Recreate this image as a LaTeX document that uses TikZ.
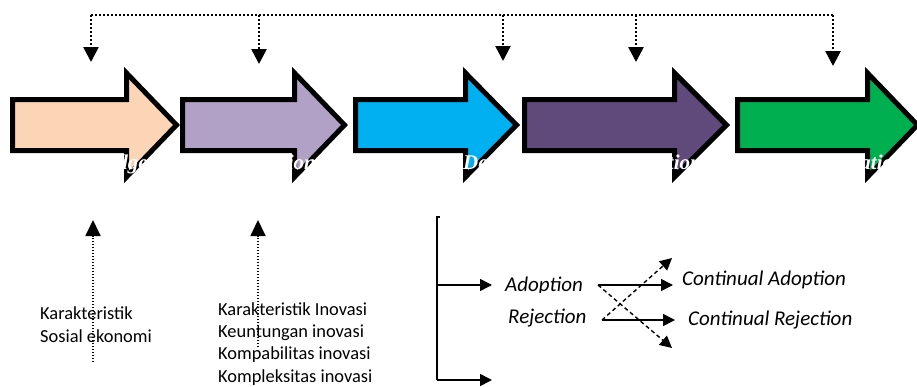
\documentclass[tikz,border=0pt]{standalone}
\usepackage{fontspec}
\setmainfont{Carlito}
\newfontfamily\stagefont{Liberation Serif}
\usetikzlibrary{arrows.meta}
\definecolor{peach}{HTML}{FBD5B5}
\definecolor{lilac}{HTML}{B2A1C7}
\definecolor{sky}{HTML}{00B0F0}
\definecolor{plum}{HTML}{604A7B}
\definecolor{leaf}{HTML}{00B050}
\tikzset{
  stage/.style={draw=black, line width=5pt, miter limit=10},
  stagelabel/.style={text=white, inner sep=0pt, font=\stagefont\bfseries\itshape\fontsize{21}{24}\selectfont},
  txt/.style={inner sep=0pt, align=left, font=\fontsize{18.4}{22.3}\selectfont},
  itxt/.style={inner sep=0pt, font=\itshape\fontsize{21}{24}\selectfont},
  topdot/.style={line width=2.6pt, dash pattern=on 2pt off 2pt},
  topdotarrow/.style={topdot, -{Triangle[length=15pt,width=15pt]}},
  updotarrow/.style={line width=1.8pt, dash pattern=on 1.5pt off 1.5pt, -{Triangle[length=16pt,width=15pt]}},
  solidarrow/.style={line width=1.5pt, -{Triangle[length=12pt,width=12pt]}},
  dasharrow/.style={line width=1.4pt, dash pattern=on 4pt off 3pt, -{Triangle[length=12pt,width=12pt]}}
}
\begin{document}
\begin{tikzpicture}[x=1pt,y=-1pt]
\useasboundingbox (0,0) rectangle (917,386);

% stages
\draw[stage, fill=peach] (12.5,99.5) -- (126.5,99.5) -- (126.5,73) -- (176.5,125) -- (126.5,177) -- (126.5,150.5) -- (12.5,150.5) -- cycle;
\draw[stage, fill=lilac] (182.5,99.5) -- (294.5,99.5) -- (294.5,73) -- (344.5,125) -- (294.5,177) -- (294.5,150.5) -- (182.5,150.5) -- cycle;
\draw[stage, fill=sky] (355.5,99.5) -- (465.5,99.5) -- (465.5,73) -- (516.5,125) -- (465.5,177) -- (465.5,150.5) -- (355.5,150.5) -- cycle;
\draw[stage, fill=plum] (524.5,99.5) -- (674.5,99.5) -- (674.5,73) -- (726.5,125) -- (674.5,177) -- (674.5,150.5) -- (524.5,150.5) -- cycle;
\draw[stage, fill=leaf] (737.5,99.5) -- (867.5,99.5) -- (867.5,73) -- (917.5,125) -- (867.5,177) -- (867.5,150.5) -- (737.5,150.5) -- cycle;

\node (know) at (148,169) [stagelabel, anchor=base east] {Knowledge};
\node (pers) at (316,169) [stagelabel, anchor=base east] {Persuasion};
\node (deci) at (463,169) [stagelabel, anchor=base west] {Decision};
\node (impl) at (702,169) [stagelabel, anchor=base east] {Implementation};
\node (conf) at (905,169) [stagelabel, anchor=base east] {Confirmation};

% top line
\coordinate (t1) at (91,15);
\coordinate (t2) at (259,15);
\coordinate (t3) at (503,15);
\coordinate (t4) at (636,15);
\coordinate (t5) at (833,15);
\coordinate (k1) at (91,62);
\coordinate (k2) at (259,64);
\coordinate (k3) at (503,61);
\coordinate (k4) at (636,62);
\coordinate (k5) at (833,66);
\draw[topdot] (t1) -- (t5);
\draw[topdotarrow] (t1) -- (k1);
\draw[topdotarrow] (t2) -- (k2);
\draw[topdotarrow] (t3) -- (k3);
\draw[topdotarrow] (t4) -- (k4);
\draw[topdotarrow] (t5) -- (k5);

% variables
\node (soc) at (40,342) [txt, anchor=base west] {Karakteristik\\Sosial ekonomi};
\node (ino) at (218,382) [txt, anchor=base west] {Karakteristik Inovasi\\Keuntungan inovasi\\Kompabilitas inovasi\\Kompleksitas inovasi};
\coordinate (u1) at (93,362);
\coordinate (v1) at (93,220);
\coordinate (u2) at (258,347);
\coordinate (v2) at (258,220);
\draw[updotarrow] (u1) -- (v1);
\draw[updotarrow] (u2) -- (v2);

% decision
\coordinate (b0) at (437,217);
\coordinate (b1) at (437,285);
\coordinate (b2) at (437,380);
\coordinate (b1e) at (492,285);
\coordinate (b2e) at (492,380);
\draw[line width=1.5pt] (439.5,217) -- (b0) -- (b2);
\draw[solidarrow] (b1) -- (b1e);
\draw[solidarrow] (b2) -- (b2e);

\begin{scope}
\clip (480,250) rectangle (595,292.5);
\node (adopt) at (505,291) [itxt, anchor=base west] {Adoption};
\end{scope}
\node (reject) at (508,323) [itxt, anchor=base west] {Rejection};
\node (cadopt) at (682,285) [itxt, anchor=base west] {Continual Adoption};
\node (creject) at (688,325) [itxt, anchor=base west] {Continual Rejection};

\coordinate (a0) at (598,285);
\coordinate (a1) at (673,285);
\coordinate (r0) at (602,320);
\coordinate (r1) at (675,320);
\coordinate (d1) at (672,348);
\coordinate (d2) at (672,258);
\draw[solidarrow] (a0) -- (a1);
\draw[solidarrow] (r0) -- (r1);
\draw[dasharrow] (a0) -- (d1);
\draw[dasharrow] (r0) -- (d2);
\end{tikzpicture}
\end{document}
